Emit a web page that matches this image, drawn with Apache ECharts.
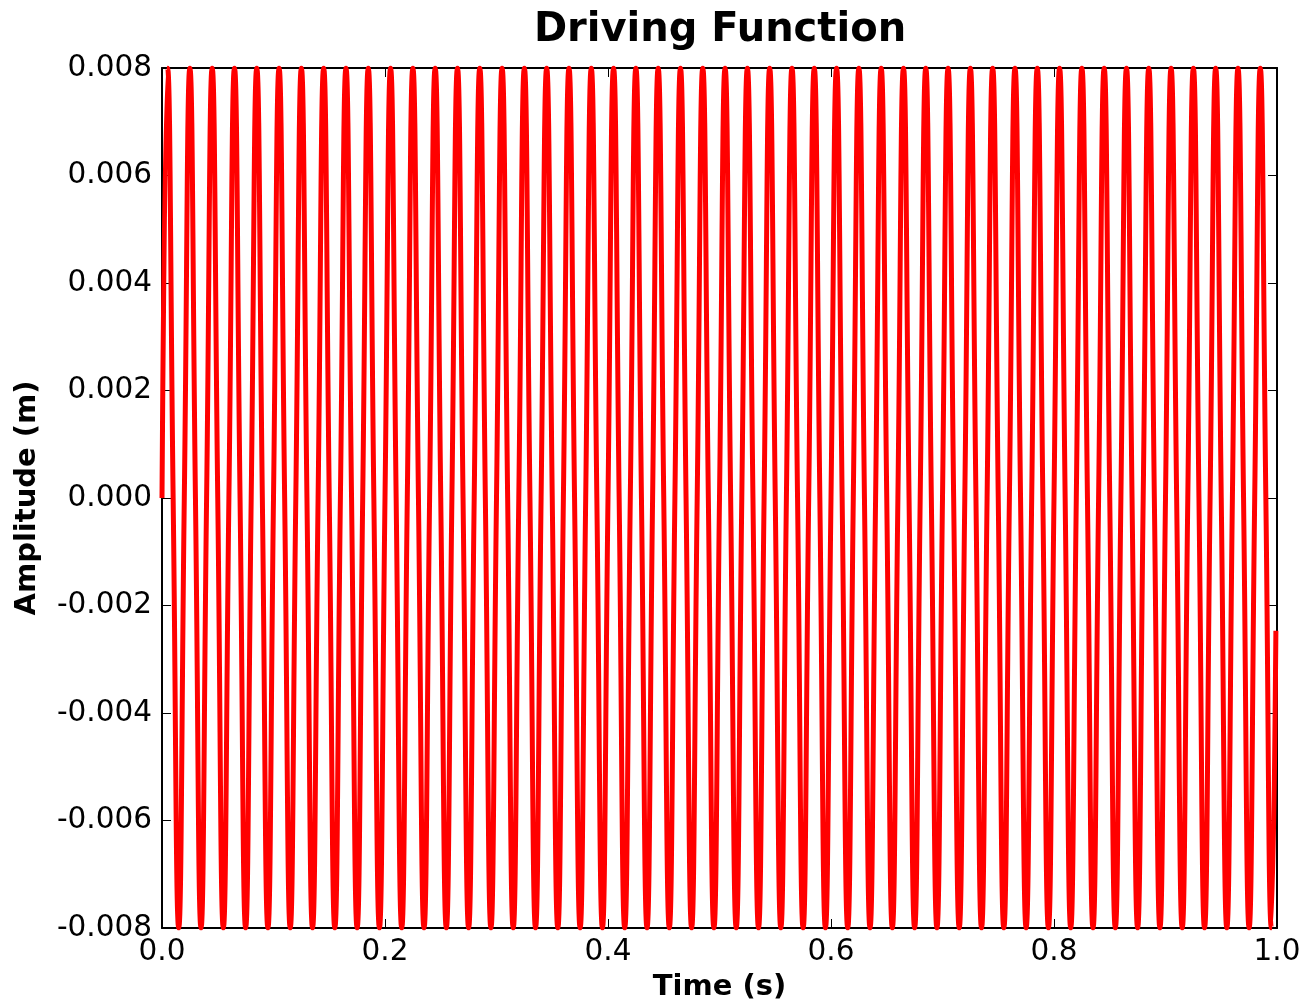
<!DOCTYPE html>
<html>
<head>
<meta charset="utf-8">
<script src="https://cdn.jsdelivr.net/npm/echarts@6/dist/echarts.min.js"></script>
<style>
html,body{margin:0;padding:0;background:#fff;}
#chart{width:1304px;height:1007px;}
</style>
</head>
<body>
<div id="chart"></div>
<script>
// Time samples (s): zero crossings, peaks, troughs, and the final sample
var timeS = [
0,0.005,0.01,0.015,0.02,0.025,0.03,0.035,0.04,0.045,
0.05,0.055,0.06,0.065,0.07,0.075,0.08,0.085,0.09,0.095,
0.1,0.105,0.11,0.115,0.12,0.125,0.13,0.135,0.14,0.145,
0.15,0.155,0.16,0.165,0.17,0.175,0.18,0.185,0.19,0.195,
0.2,0.205,0.21,0.215,0.22,0.225,0.23,0.235,0.24,0.245,
0.25,0.255,0.26,0.265,0.27,0.275,0.28,0.285,0.29,0.295,
0.3,0.305,0.31,0.315,0.32,0.325,0.33,0.335,0.34,0.345,
0.35,0.355,0.36,0.365,0.37,0.375,0.38,0.385,0.39,0.395,
0.4,0.405,0.41,0.415,0.42,0.425,0.43,0.435,0.44,0.445,
0.45,0.455,0.46,0.465,0.47,0.475,0.48,0.485,0.49,0.495,
0.5,0.505,0.51,0.515,0.52,0.525,0.53,0.535,0.54,0.545,
0.55,0.555,0.56,0.565,0.57,0.575,0.58,0.585,0.59,0.595,
0.6,0.605,0.61,0.615,0.62,0.625,0.63,0.635,0.64,0.645,
0.65,0.655,0.66,0.665,0.67,0.675,0.68,0.685,0.69,0.695,
0.7,0.705,0.71,0.715,0.72,0.725,0.73,0.735,0.74,0.745,
0.75,0.755,0.76,0.765,0.77,0.775,0.78,0.785,0.79,0.795,
0.8,0.805,0.81,0.815,0.82,0.825,0.83,0.835,0.84,0.845,
0.85,0.855,0.86,0.865,0.87,0.875,0.88,0.885,0.89,0.895,
0.9,0.905,0.91,0.915,0.92,0.925,0.93,0.935,0.94,0.945,
0.95,0.955,0.96,0.965,0.97,0.975,0.98,0.985,0.99,0.995,
0.999
];
// Amplitude (m) at those times
var amplitudeM = [
0,0.008,0,-0.008,0,0.008,0,-0.008,0,0.008,
0,-0.008,0,0.008,0,-0.008,0,0.008,0,-0.008,
0,0.008,0,-0.008,0,0.008,0,-0.008,0,0.008,
0,-0.008,0,0.008,0,-0.008,0,0.008,0,-0.008,
0,0.008,0,-0.008,0,0.008,0,-0.008,0,0.008,
0,-0.008,0,0.008,0,-0.008,0,0.008,0,-0.008,
0,0.008,0,-0.008,0,0.008,0,-0.008,0,0.008,
0,-0.008,0,0.008,0,-0.008,0,0.008,0,-0.008,
0,0.008,0,-0.008,0,0.008,0,-0.008,0,0.008,
0,-0.008,0,0.008,0,-0.008,0,0.008,0,-0.008,
0,0.008,0,-0.008,0,0.008,0,-0.008,0,0.008,
0,-0.008,0,0.008,0,-0.008,0,0.008,0,-0.008,
0,0.008,0,-0.008,0,0.008,0,-0.008,0,0.008,
0,-0.008,0,0.008,0,-0.008,0,0.008,0,-0.008,
0,0.008,0,-0.008,0,0.008,0,-0.008,0,0.008,
0,-0.008,0,0.008,0,-0.008,0,0.008,0,-0.008,
0,0.008,0,-0.008,0,0.008,0,-0.008,0,0.008,
0,-0.008,0,0.008,0,-0.008,0,0.008,0,-0.008,
0,0.008,0,-0.008,0,0.008,0,-0.008,0,0.008,
0,-0.008,0,0.008,0,-0.008,0,0.008,0,-0.008,
-0.00247
];
var xTicks = [0, 0.2, 0.4, 0.6, 0.8, 1.0];
var yTicks = [-0.008, -0.006, -0.004, -0.002, 0, 0.002, 0.004, 0.006, 0.008];

var FONT = 'DejaVu Sans';
var chart = echarts.init(document.getElementById('chart'), null, {renderer: 'canvas'});

function frameAxis(base) {
  return Object.assign({
    axisLine: {show: true, onZero: false, lineStyle: {color: '#000', width: 2}},
    axisTick: {show: true, inside: true, length: 9, lineStyle: {color: '#000', width: 1}},
    splitLine: {show: false}
  }, base);
}

var option = {
  animation: false,
  backgroundColor: '#fff',
  title: {
    text: 'Driving Function',
    left: 715, top: 6, textAlign: 'center',
    textStyle: {fontFamily: FONT, fontSize: 40, fontWeight: 'bold', color: '#000'}
  },
  grid: {left: 162, top: 68, width: 1115, height: 864, containLabel: false},
  xAxis: [
    frameAxis({
      type: 'value', position: 'bottom',
      min: xTicks[0], max: xTicks[xTicks.length - 1], interval: 0.2,
      name: 'Time (s)', nameLocation: 'middle', nameGap: 45,
      nameTextStyle: {fontFamily: FONT, fontSize: 29, fontWeight: 'bold', color: '#000'},
      axisLabel: {show: true, margin: 9, fontFamily: FONT, fontSize: 29.5, color: '#000',
        formatter: function (v) { return v.toFixed(1); }}
    }),
    frameAxis({
      type: 'value', position: 'top',
      min: xTicks[0], max: xTicks[xTicks.length - 1], interval: 0.2,
      axisLabel: {show: false}
    })
  ],
  yAxis: [
    frameAxis({
      type: 'value', position: 'left',
      min: yTicks[0], max: yTicks[yTicks.length - 1], interval: 0.002,
      name: 'Amplitude (m)', nameLocation: 'middle', nameGap: 120,
      nameTextStyle: {fontFamily: FONT, fontSize: 29, fontWeight: 'bold', color: '#000'},
      axisLabel: {show: true, margin: 10, fontFamily: FONT, fontSize: 29.5, color: '#000',
        formatter: function (v) { return v.toFixed(3); }}
    }),
    frameAxis({
      type: 'value', position: 'right',
      min: yTicks[0], max: yTicks[yTicks.length - 1], interval: 0.002,
      axisLabel: {show: false}
    })
  ],
  series: [{
    type: 'line',
    xAxisIndex: 0, yAxisIndex: 0,
    data: timeS.map(function (t, i) { return [t, amplitudeM[i]]; }),
    smooth: true,
    showSymbol: false,
    clip: true,
    lineStyle: {color: '#ff0000', width: 5},
    z: 1
  }]
};
chart.setOption(option);
</script>
</body>
</html>
